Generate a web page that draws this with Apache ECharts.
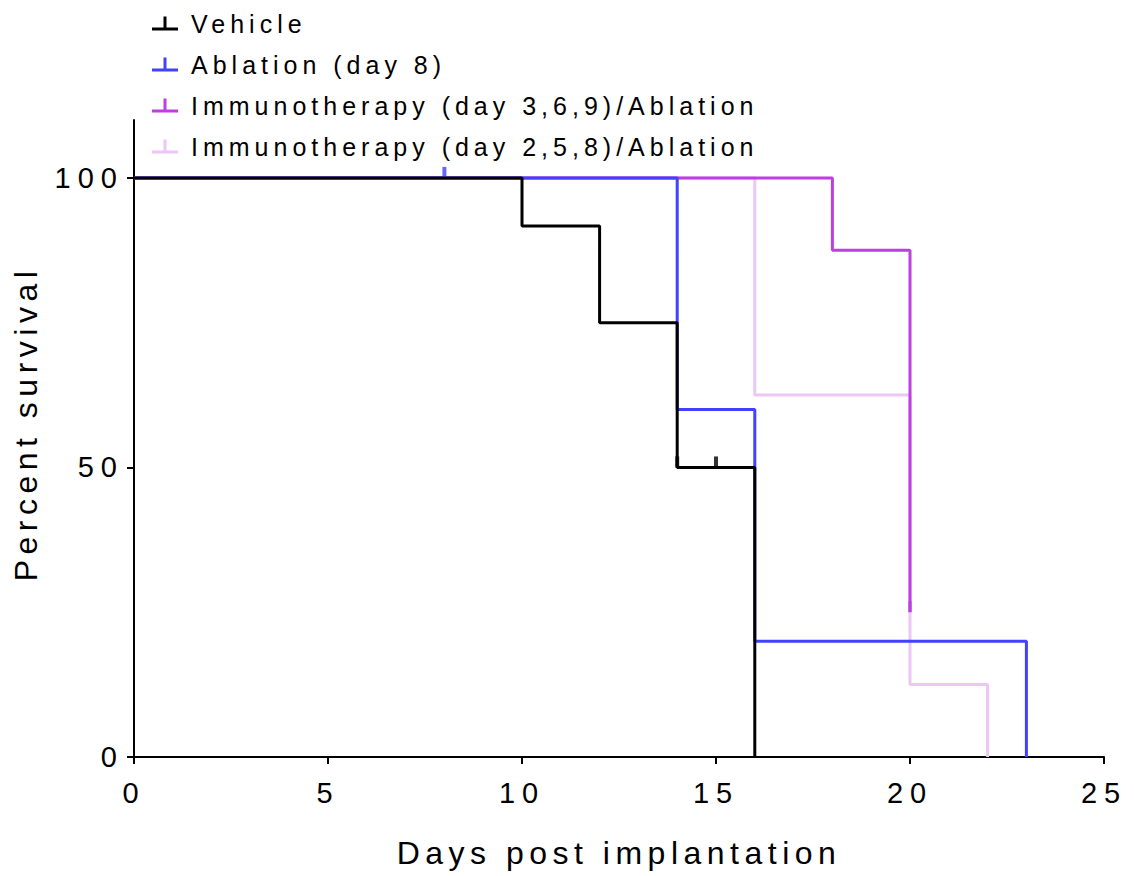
<!DOCTYPE html>
<html>
<head>
<meta charset="utf-8">
<script src="https://cdn.jsdelivr.net/npm/echarts@6/dist/echarts.min.js"></script>
<style>
  html, body { margin: 0; padding: 0; background: #fff; }
  #main { width: 1134px; height: 876px; }
  /* the original figure uses widely tracked text */
  #main text { letter-spacing: 5px; }
  #main text[style*="29px"] { letter-spacing: 7px; }
  #main text[style*="32px"] { letter-spacing: 5.5px; }
</style>
</head>
<body>
<div id="main"></div>
<script>
// Kaplan-Meier steps: day of event and survival after it
const vehicleDays = [0, 10, 12, 14, 16];
const vehicleSurv = [100, 91.7, 75, 50, 0];
const vehicleCensorDays = [14, 15];
const vehicleCensorSurv = [50, 50];

const ablationDays = [0, 14, 16, 23];
const ablationSurv = [100, 60, 20, 0];
const ablationCensorDays = [8];
const ablationCensorSurv = [100];

const immA_Days = [0, 18, 20];
const immA_Surv = [100, 87.5, 25];
const immA_CensorDays = [20];
const immA_CensorSurv = [25];

const immB_Days = [0, 16, 20, 22];
const immB_Surv = [100, 62.5, 12.5, 0];

const names = ['Vehicle', 'Ablation (day 8)', 'Immunotherapy (day 3,6,9)/Ablation', 'Immunotherapy (day 2,5,8)/Ablation'];
const colors = ['#000000', '#4141ff', '#bd3fe2', '#ebc6f6'];
const xTicks = [0, 5, 10, 15, 20, 25];
const yTicks = [0, 50, 100];

const font = "'Liberation Sans', Arial, sans-serif";
const icon = 'path://M0,11h26v3h-26z M11.5,0h3v11h-3z';

function pairs(xs, ys) {
  return xs.map((x, i) => [x, ys[i]]);
}

function stepLine(idx, xs, ys) {
  return {
    name: names[idx],
    type: 'line',
    step: 'end',
    showSymbol: false,
    color: colors[idx],
    lineStyle: { width: 3, color: colors[idx] },
    data: pairs(xs, ys)
  };
}

function censor(idx, xs, ys) {
  return {
    name: names[idx] + ' censored',
    type: 'scatter',
    symbol: 'rect',
    symbolSize: [4, 11],
    symbolOffset: [0, '-50%'],
    itemStyle: { color: colors[idx] },
    data: pairs(xs, ys)
  };
}

const chart = echarts.init(document.getElementById('main'), null, { renderer: 'svg' });
chart.setOption({
  animation: false,
  backgroundColor: '#fff',
  grid: { left: 134, right: 30, top: 120, bottom: 119 },
  legend: {
    orient: 'vertical',
    left: 147,
    top: 6,
    itemWidth: 26,
    itemHeight: 14,
    itemGap: 16,
    textStyle: { fontFamily: font, fontSize: 25, color: '#000', padding: [0, 0, 0, 8] },
    data: names.map(n => ({ name: n, icon: icon }))
  },
  xAxis: {
    type: 'value',
    min: 0,
    max: 25,
    interval: 5,
    name: 'Days post implantation',
    nameLocation: 'middle',
    nameGap: 80,
    nameTextStyle: { fontFamily: font, fontSize: 32, color: '#000' },
    axisLine: { lineStyle: { color: '#000', width: 2 } },
    axisTick: { length: 7, lineStyle: { color: '#000', width: 2 }, customValues: xTicks },
    axisLabel: { fontFamily: font, fontSize: 29, color: '#000', margin: 21, customValues: xTicks },
    splitLine: { show: false }
  },
  yAxis: {
    type: 'value',
    min: 0,
    max: 110,
    name: 'Percent survival',
    nameLocation: 'middle',
    nameGap: 92,
    nameTextStyle: { fontFamily: font, fontSize: 32, color: '#000', padding: [0, 0, 0, 30] },
    axisLine: { show: true, lineStyle: { color: '#000', width: 2 } },
    axisTick: { show: true, length: 7, lineStyle: { color: '#000', width: 2 }, customValues: yTicks },
    axisLabel: { fontFamily: font, fontSize: 29, color: '#000', margin: 10, customValues: yTicks },
    splitLine: { show: false }
  },
  series: [
    stepLine(3, immB_Days, immB_Surv),
    stepLine(2, immA_Days, immA_Surv),
    stepLine(1, ablationDays, ablationSurv),
    stepLine(0, vehicleDays, vehicleSurv),
    censor(2, immA_CensorDays, immA_CensorSurv),
    censor(1, ablationCensorDays, ablationCensorSurv),
    censor(0, vehicleCensorDays, vehicleCensorSurv)
  ]
});
</script>
</body>
</html>
